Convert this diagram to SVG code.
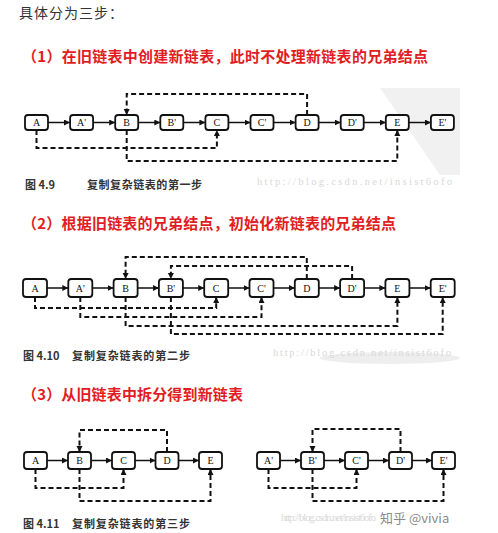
<svg xmlns="http://www.w3.org/2000/svg" width="498" height="533" viewBox="0 0 498 533">
<style>
.bg{fill:#ffffff}
.node rect{fill:#ffffff;stroke:#111;stroke-width:1.8}
.node text{font-family:"Liberation Serif","DejaVu Serif",serif;font-size:10px;fill:#111;text-anchor:middle}
.solid{stroke:#111;stroke-width:1.5;fill:none;marker-end:url(#ah)}
.dash{stroke:#111;stroke-width:2;stroke-dasharray:5 3;fill:none;marker-end:url(#ah)}
.h{font-family:"Noto Sans CJK SC","Noto Sans",sans-serif;font-weight:bold;font-size:15px;fill:#e21c23}
.cap{font-family:"Noto Sans CJK SC","Noto Sans",sans-serif;font-weight:bold;font-size:11px;fill:#333}
.wm{font-family:"Liberation Serif","DejaVu Serif",serif;font-size:10.5px;fill:#d8d8d8}
</style>
<defs>
<marker id="ah" markerUnits="userSpaceOnUse" markerWidth="7" markerHeight="7" refX="6" refY="3" orient="auto">
<path d="M0,0 L6,3 L0,6 z" fill="#111"/>
</marker>
</defs>
<rect class="bg" x="0" y="0" width="498" height="533"/>
<polygon points="380,88 460,88 460,175 440,175" fill="#f1f1f1"/>
<ellipse cx="390" cy="358" rx="70" ry="6" fill="#eeeeee"/>

<text x="19" y="18" font-family="'Noto Sans CJK SC','Noto Sans',sans-serif" font-size="14" fill="#333" textLength="104">具体分为三步：</text>

<text class="h" x="22" y="62" textLength="406">（1）在旧链表中创建新链表，此时不处理新链表的兄弟结点</text>
<text class="h" x="22" y="229" textLength="374">（2）根据旧链表的兄弟结点，初始化新链表的兄弟结点</text>
<text class="h" x="22" y="400" textLength="221">（3）从旧链表中拆分得到新链表</text>

<text class="cap" x="25" y="189">图 4.9</text>
<text class="cap" x="87" y="189" textLength="115">复制复杂链表的第一步</text>
<text class="cap" x="23" y="360">图 4.10</text>
<text class="cap" x="72" y="360" textLength="118">复制复杂链表的第二步</text>
<text class="cap" x="23" y="528">图 4.11</text>
<text class="cap" x="72" y="528" textLength="118">复制复杂链表的第三步</text>

<text class="wm" x="257" y="185" textLength="195">http://blog.csdn.net/insist6ofo</text>
<text class="wm" x="273" y="356" textLength="178">http://blog.csdn.net/insist6ofo</text>
<text class="wm" x="281" y="521" font-size="9" textLength="95">http://blog.csdn.net/insist6ofo</text>
<text x="380" y="523" font-family="'Noto Sans CJK SC','Noto Sans',sans-serif" font-size="13" fill="#8a8a8a">知乎 @vivia</text>

<g id="connectors">
<path class="solid" d="M48,122.5 H70"/>
<path class="solid" d="M93.1,122.5 H115.2"/>
<path class="solid" d="M138.2,122.5 H160.3"/>
<path class="solid" d="M183.3,122.5 H205.4"/>
<path class="solid" d="M228.4,122.5 H250.5"/>
<path class="solid" d="M273.5,122.5 H295.6"/>
<path class="solid" d="M318.6,122.5 H340.7"/>
<path class="solid" d="M363.7,122.5 H385.8"/>
<path class="solid" d="M408.8,122.5 H430.9"/>
<path class="dash" d="M307.1,115 V94 H126.7 V115"/>
<path class="dash" d="M36.5,130 V148 H216.9 V130"/>
<path class="dash" d="M126.7,130 V161 H397.3 V130"/>

<path class="solid" d="M47,288 H68.3"/>
<path class="solid" d="M92.3,288 H113.6"/>
<path class="solid" d="M137.6,288 H158.9"/>
<path class="solid" d="M182.9,288 H204.2"/>
<path class="solid" d="M228.2,288 H249.5"/>
<path class="solid" d="M273.5,288 H294.8"/>
<path class="solid" d="M318.8,288 H340.1"/>
<path class="solid" d="M364.1,288 H385.4"/>
<path class="solid" d="M409.4,288 H430.7"/>
<path class="dash" d="M306.8,279 V257 H125.6 V279"/>
<path class="dash" d="M352.1,279 V266 H170.9 V279"/>
<path class="dash" d="M35,297 V308 H216.2 V297"/>
<path class="dash" d="M80.3,297 V317 H261.5 V297"/>
<path class="dash" d="M125.6,297 V326 H397.4 V297"/>
<path class="dash" d="M170.9,297 V334 H442.7 V297"/>

<path class="solid" d="M47,460.5 H68"/>
<path class="solid" d="M91,460.5 H112"/>
<path class="solid" d="M135,460.5 H155.5"/>
<path class="solid" d="M178.5,460.5 H199"/>
<path class="dash" d="M167,452 V430 H79.5 V452"/>
<path class="dash" d="M35.5,469 V488 H123.5 V469"/>
<path class="dash" d="M79.5,469 V501 H210.5 V469"/>

<path class="solid" d="M280,460.5 H301"/>
<path class="solid" d="M324,460.5 H345"/>
<path class="solid" d="M368,460.5 H389"/>
<path class="solid" d="M412,460.5 H432"/>
<path class="dash" d="M400.5,452 V429 H312.5 V452"/>
<path class="dash" d="M268.5,469 V488 H356.5 V469"/>
<path class="dash" d="M312.5,469 V501 H443.5 V469"/>
</g>

<g id="d1-A" class="node"><rect x="25" y="115" width="23" height="15" rx="3"/><text x="36.5" y="126">A</text></g>
<g id="d1-A1" class="node"><rect x="70.1" y="115" width="23" height="15" rx="3"/><text x="81.6" y="126">A'</text></g>
<g id="d1-B" class="node"><rect x="115.2" y="115" width="23" height="15" rx="3"/><text x="126.7" y="126">B</text></g>
<g id="d1-B1" class="node"><rect x="160.3" y="115" width="23" height="15" rx="3"/><text x="171.8" y="126">B'</text></g>
<g id="d1-C" class="node"><rect x="205.4" y="115" width="23" height="15" rx="3"/><text x="216.9" y="126">C</text></g>
<g id="d1-C1" class="node"><rect x="250.5" y="115" width="23" height="15" rx="3"/><text x="262" y="126">C'</text></g>
<g id="d1-D" class="node"><rect x="295.6" y="115" width="23" height="15" rx="3"/><text x="307.1" y="126">D</text></g>
<g id="d1-D1" class="node"><rect x="340.7" y="115" width="23" height="15" rx="3"/><text x="352.2" y="126">D'</text></g>
<g id="d1-E" class="node"><rect x="385.8" y="115" width="23" height="15" rx="3"/><text x="397.3" y="126">E</text></g>
<g id="d1-E1" class="node"><rect x="430.9" y="115" width="23" height="15" rx="3"/><text x="442.4" y="126">E'</text></g>

<g id="d2-A" class="node"><rect x="23" y="279" width="24" height="18" rx="3"/><text x="35" y="291.5">A</text></g>
<g id="d2-A1" class="node"><rect x="68.3" y="279" width="24" height="18" rx="3"/><text x="80.3" y="291.5">A'</text></g>
<g id="d2-B" class="node"><rect x="113.6" y="279" width="24" height="18" rx="3"/><text x="125.6" y="291.5">B</text></g>
<g id="d2-B1" class="node"><rect x="158.9" y="279" width="24" height="18" rx="3"/><text x="170.9" y="291.5">B'</text></g>
<g id="d2-C" class="node"><rect x="204.2" y="279" width="24" height="18" rx="3"/><text x="216.2" y="291.5">C</text></g>
<g id="d2-C1" class="node"><rect x="249.5" y="279" width="24" height="18" rx="3"/><text x="261.5" y="291.5">C'</text></g>
<g id="d2-D" class="node"><rect x="294.8" y="279" width="24" height="18" rx="3"/><text x="306.8" y="291.5">D</text></g>
<g id="d2-D1" class="node"><rect x="340.1" y="279" width="24" height="18" rx="3"/><text x="352.1" y="291.5">D'</text></g>
<g id="d2-E" class="node"><rect x="385.4" y="279" width="24" height="18" rx="3"/><text x="397.4" y="291.5">E</text></g>
<g id="d2-E1" class="node"><rect x="430.7" y="279" width="24" height="18" rx="3"/><text x="442.7" y="291.5">E'</text></g>

<g id="d3-A" class="node"><rect x="24" y="452" width="23" height="17" rx="3"/><text x="35.5" y="464">A</text></g>
<g id="d3-B" class="node"><rect x="68" y="452" width="23" height="17" rx="3"/><text x="79.5" y="464">B</text></g>
<g id="d3-C" class="node"><rect x="112" y="452" width="23" height="17" rx="3"/><text x="123.5" y="464">C</text></g>
<g id="d3-D" class="node"><rect x="155.5" y="452" width="23" height="17" rx="3"/><text x="167" y="464">D</text></g>
<g id="d3-E" class="node"><rect x="199" y="452" width="23" height="17" rx="3"/><text x="210.5" y="464">E</text></g>

<g id="d3-A1" class="node"><rect x="257" y="452" width="23" height="17" rx="3"/><text x="268.5" y="464">A'</text></g>
<g id="d3-B1" class="node"><rect x="301" y="452" width="23" height="17" rx="3"/><text x="312.5" y="464">B'</text></g>
<g id="d3-C1" class="node"><rect x="345" y="452" width="23" height="17" rx="3"/><text x="356.5" y="464">C'</text></g>
<g id="d3-D1" class="node"><rect x="389" y="452" width="23" height="17" rx="3"/><text x="400.5" y="464">D'</text></g>
<g id="d3-E1" class="node"><rect x="432" y="452" width="23" height="17" rx="3"/><text x="443.5" y="464">E'</text></g>
</svg>
